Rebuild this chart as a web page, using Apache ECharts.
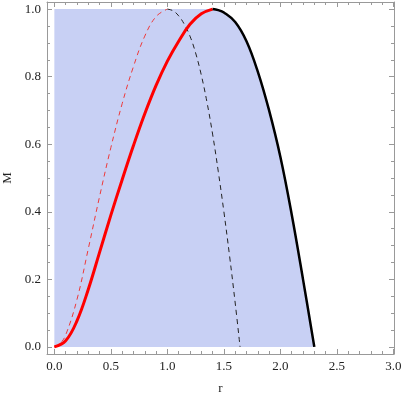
<!DOCTYPE html>
<html>
<head>
<meta charset="utf-8">
<script src="https://cdn.jsdelivr.net/npm/echarts@6/dist/echarts.min.js"></script>
<style>
html, body { margin: 0; padding: 0; background: #fff; }
#chart1 { width: 403px; height: 400px; }
</style>
</head>
<body>
<div id="chart1"></div>
<script>
// curves, [r, M]
const redSolid = [[0,0],[0.1,0.018],[0.2,0.077],[0.3,0.17],[0.4,0.28],[0.5,0.39],[0.6,0.495],[0.7,0.596],[0.8,0.69],[0.9,0.774],[1.0,0.846],[1.1,0.905],[1.2,0.955],[1.3,0.986],[1.4,1]];
const blackSolid = [[1.4,1],[1.45,0.997],[1.5,0.99],[1.6,0.962],[1.7,0.905],[1.8,0.815],[1.9,0.70],[2.0,0.562],[2.1,0.392],[2.2,0.20],[2.3,0]];
const redDashed = [[0,0],[0.05,0.01],[0.1,0.035],[0.2,0.14],[0.3,0.29],[0.4,0.445],[0.5,0.59],[0.6,0.72],[0.7,0.83],[0.8,0.92],[0.9,0.978],[1.0,1]];
const blackDashed = [[1.0,1],[1.05,0.995],[1.1,0.98],[1.15,0.955],[1.2,0.92],[1.25,0.87],[1.3,0.805],[1.35,0.725],[1.4,0.63],[1.45,0.52],[1.5,0.40],[1.55,0.27],[1.6,0.13],[1.643,0]];

// shaded region: flat top at M = 1, then the solid black edge
const shadeTop = [[0,1],[1.3,1]].concat(blackSolid);

const xMajor = [0,0.5,1,1.5,2,2.5,3];
const xMinor = [0,0.1,0.2,0.3,0.4,0.5,0.6,0.7,0.8,0.9,1,1.1,1.2,1.3,1.4,1.5,1.6,1.7,1.8,1.9,2,2.1,2.2,2.3,2.4,2.5,2.6,2.7,2.8,2.9,3];
const yMajor = [0,0.2,0.4,0.6,0.8,1];
const yMinor = [0,0.05,0.1,0.15,0.2,0.25,0.3,0.35,0.4,0.45,0.5,0.55,0.6,0.65,0.7,0.75,0.8,0.85,0.9,0.95,1];

const frameColor = "#999";
const fontStyle = { fontFamily: "Liberation Serif", fontSize: 13, color: "#222" };
const xRange = { min: -0.065, max: 3.005 };
const yRange = { min: -0.021, max: 1.021 };

const makeAxis = (range, pos, ticks, len, gridIndex, withLabels, showLine) => ({
  type: "value",
  gridIndex: gridIndex,
  position: pos,
  min: range.min,
  max: range.max,
  splitLine: { show: false },
  axisLine: { show: showLine, onZero: false, lineStyle: { color: frameColor, width: 1 } },
  axisTick: { show: true, inside: true, length: len, customValues: ticks, lineStyle: { color: frameColor, width: 1 } },
  axisLabel: withLabels
    ? Object.assign({ show: true, customValues: ticks, margin: 6, formatter: v => v.toFixed(1) }, fontStyle)
    : { show: false }
});

const xAxes = [
  makeAxis(xRange, "bottom", xMajor, 5, 0, true, true),
  makeAxis(xRange, "top", xMajor, 5, 0, false, true),
  makeAxis(xRange, "bottom", xMinor, 3, 1, false, false),
  makeAxis(xRange, "top", xMinor, 3, 1, false, false)
];
xAxes[0].name = "r";
xAxes[0].nameLocation = "middle";
xAxes[0].nameGap = 28;
xAxes[0].nameTextStyle = fontStyle;

const yAxes = [
  makeAxis(yRange, "left", yMajor, 5, 0, true, true),
  makeAxis(yRange, "right", yMajor, 5, 0, false, true),
  makeAxis(yRange, "left", yMinor, 3, 1, false, false),
  makeAxis(yRange, "right", yMinor, 3, 1, false, false)
];
yAxes[0].name = "M";
yAxes[0].nameLocation = "middle";
yAxes[0].nameRotate = 90;
yAxes[0].nameGap = 32;
yAxes[0].nameTextStyle = fontStyle;

const grid = { left: 47, right: 9, top: 2, bottom: 46, containLabel: false, outerBoundsMode: "none" };

const curve = (data, color, width, type, z) => ({
  type: "line",
  xAxisIndex: 0,
  yAxisIndex: 0,
  data: data,
  smooth: 0.4,
  showSymbol: false,
  silent: true,
  z: z,
  lineStyle: { color: color, width: width, type: type }
});

const option = {
  animation: false,
  grid: [Object.assign({}, grid), Object.assign({}, grid)],
  xAxis: xAxes,
  yAxis: yAxes,
  series: [
    {
      type: "line",
      xAxisIndex: 0,
      yAxisIndex: 0,
      data: shadeTop,
      smooth: 0.4,
      showSymbol: false,
      silent: true,
      z: 1,
      lineStyle: { width: 0, opacity: 0 },
      areaStyle: { color: "#c8d0f4", opacity: 1 }
    },
    curve(redDashed, "#ee3a3a", 1, [5, 4], 2),
    curve(blackDashed, "#222", 1, [5, 4], 2),
    curve(redSolid, "#ff0000", 3, "solid", 3),
    curve(blackSolid, "#000", 2.5, "solid", 3)
  ]
};

let chart1;
document.addEventListener("DOMContentLoaded", function () {
  chart1 = echarts.init(document.getElementById("chart1"));
  chart1.setOption(option);
});
</script>
</body>
</html>
